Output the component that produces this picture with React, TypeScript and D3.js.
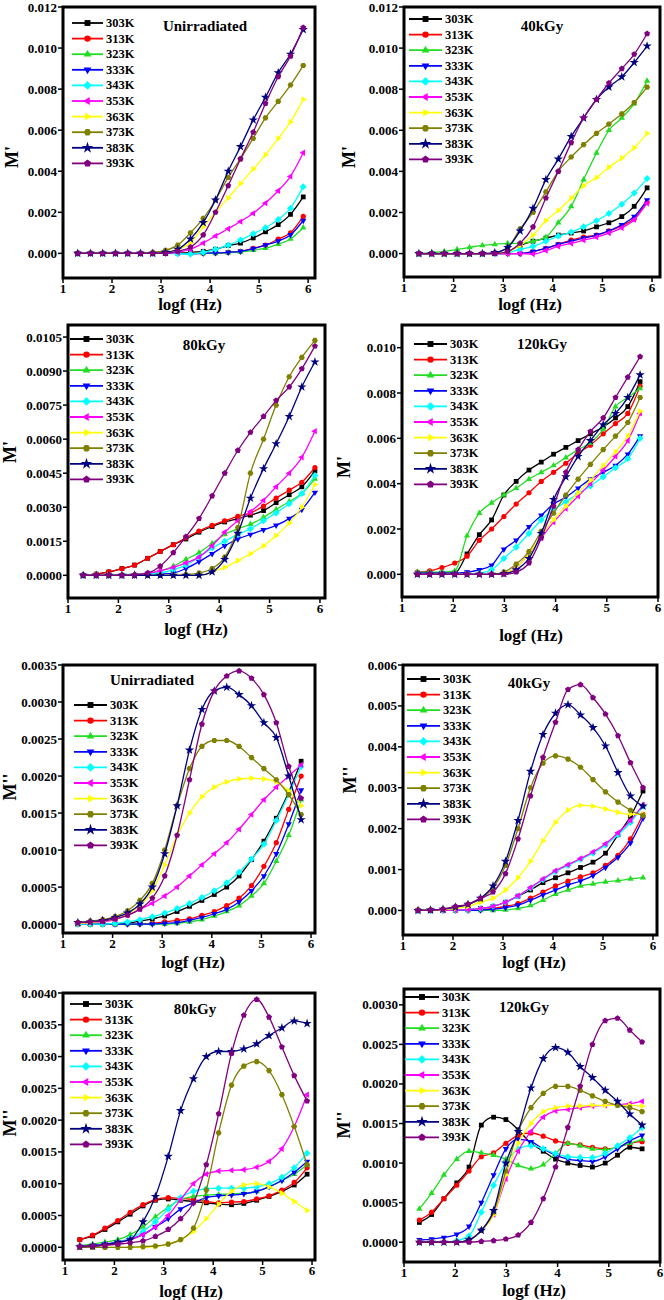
import React from "react";
import * as d3 from "d3";

// series labels and styling (Origin defaults)
const TEMPS = ["303K", "313K", "323K", "333K", "343K", "353K", "363K", "373K", "383K", "393K"];
const COLORS = ["#000000", "#ff0000", "#22dd22", "#0000ff", "#00ffff", "#ff00ff", "#ffff00", "#808000", "#000080", "#800080"];
const SHAPES = ["square", "circle", "up", "down", "diamond", "left", "right", "hexagon", "star", "pentagon"];

// logf grids (Hz)
const X_A = [1.3, 1.56, 1.81, 2.07, 2.32, 2.58, 2.83, 3.09, 3.34, 3.6, 3.86, 4.11, 4.37, 4.62, 4.88, 5.13, 5.39, 5.64, 5.9];
const X_B = [1.3, 1.55, 1.8, 2.05, 2.3, 2.55, 2.8, 3.05, 3.3, 3.55, 3.8, 4.05, 4.3, 4.55, 4.8, 5.05, 5.3, 5.55, 5.8];
const X_C = [1.3, 1.54, 1.78, 2.03, 2.27, 2.51, 2.75, 2.99, 3.23, 3.48, 3.72, 3.96, 4.2, 4.44, 4.68, 4.93, 5.17, 5.41, 5.65];

// M' (x1e-4), one row per temperature
const MP_UNIRR = [
  [0, 0, 0, 0, 0, 0, 0, 0, 0.2, 0.5, 1, 2, 3.8, 5, 7.5, 10.5, 14, 19, 27.5],
  [0, 0, 0, 0, 0, 0, 0, 0, 0, 0, 0, 0.2, 0.5, 1, 2.5, 4, 7, 10, 18],
  [0, 0, 0, 0, 0, 0, 0, 0, 0, 0, 0, 0, 0.3, 0.7, 1.5, 2.5, 4.5, 7, 12.5],
  [0, 0, 0, 0, 0, 0, 0, 0, 0, -0.2, 0, 0.2, 0.5, 1, 2.3, 4, 6, 9, 16],
  [0, 0, 0, 0, 0, 0, 0, 0, -0.2, -0.3, 0.5, 2, 4, 6.5, 9.5, 12.5, 16.5, 22, 32.5],
  [0, 0, 0, 0, 0, 0, 0, 0, 0.5, 2, 5, 8.5, 12, 15.5, 19.5, 24.5, 30.5, 37.5, 49],
  [0, 0, 0, 0, 0, 0, 0, 0.5, 2, 5, 13, 20, 27, 34, 41, 48, 56, 64, 75],
  [0, 0, 0, 0, 0, 0, 0.5, 1.5, 4, 10, 17, 26, 37, 46, 56, 66, 74, 82, 91.5],
  [0, 0, 0, 0, 0, 0, 0, 0.5, 2, 7, 15, 26, 40, 52, 65, 76, 88, 97, 109],
  [0, 0, 0, 0, 0, 0, 0, 0, 1, 3, 9, 20, 33, 46, 59, 73, 86, 96, 110],
];
const MP_40 = [
  [0, 0, 0, 0, 0, 0, 0, 1, 4, 6, 7.5, 9, 10, 11, 13, 15, 18, 23, 32],
  [0, 0, 0, 0, 0, 0, 0, 0, 0, 1, 2.5, 4.5, 6.5, 8, 9, 11, 13.5, 17, 25],
  [0, 0.5, 1, 2, 3, 4, 4.5, 5, 5, 6, 8, 15, 23, 36, 49, 60, 66, 73, 84],
  [0, 0, 0, 0, 0, 0, 0, 0, 0, 1, 2.5, 4.5, 6, 7.5, 9, 11, 14, 18, 26],
  [0, 0, 0, 0, 0, 0, 0, 0.5, 2, 3.5, 6, 8.5, 10.5, 13, 16, 19.5, 24, 29.5, 36.5],
  [0, 0, 0, 0, 0, 0, 0, 0, 0, -0.2, 1.5, 3.5, 5, 6.5, 8, 10, 12.5, 16.5, 24.5],
  [0, 0, 0, 0, 0, 0, 0, 1, 4, 9, 16, 21, 27, 33, 37, 42, 46.5, 51.5, 58.5],
  [0, 0, 0, 0, 0, 0, 0.5, 3, 12, 20, 30, 40, 47, 53, 58.5, 63, 68, 73.5, 81],
  [0, 0, 0, 0, 0, 0, 0.5, 3, 11, 22, 36, 46, 57, 66, 75, 81, 86, 93, 101],
  [0, 0, 0, 0, 0, 0, 0, 1, 5, 13, 27, 40, 54, 66, 75, 83, 90, 97, 107],
];
const MP_80 = [
  [0, 0.5, 1.5, 3, 4.5, 7.5, 10.5, 13.5, 16, 19, 21.5, 23.5, 25, 26.5, 28.5, 32, 35.5, 39, 46],
  [0, 0.5, 1.5, 3, 4.5, 7.5, 10.5, 13.5, 16.5, 19.5, 22, 24, 26, 27.5, 30.5, 34, 37.5, 41, 47.5],
  [0, 0, 0, 0.3, 0.5, 1, 2, 4, 7, 10, 14, 18, 20.5, 22.5, 25.5, 29, 32.5, 36, 42.5],
  [0, 0, 0, 0, 0, 0.2, 0.5, 1, 3, 6, 9.5, 13, 16, 18, 20, 22, 25, 29, 36.5],
  [0, 0, 0, 0, 0.2, 0.5, 1, 2.5, 4.5, 8, 12, 15, 18, 20.5, 24, 27.5, 31.5, 36, 44],
  [0, 0, 0, 0, 0.3, 1, 2, 3.5, 5.5, 8, 13, 19, 24, 28, 33, 39, 45, 52, 63.5],
  [0, 0, 0, 0, 0, 0, 0, 0, 0, 0, 1.5, 3.5, 6.5, 9.5, 13, 17.5, 23, 30, 40],
  [0, 0, 0, 0, 0, 0, 0, 0, 0.3, 1, 3, 8, 21, 45, 60, 75, 87.5, 96, 103.5],
  [0, 0, 0, 0, 0, 0, 0, 0, 0, 0, 1.5, 7, 18.5, 34, 47, 58, 70, 83, 94],
  [0, 0, 0, 0, 0.2, 1, 4, 10, 17, 25, 35, 45, 55, 63, 70, 77, 83, 91, 101],
];
const MP_120 = [
  [0.5, 0.5, 0.5, 0.5, 9, 17.5, 24, 35, 41, 46, 49.5, 53, 56, 59, 62, 65, 69, 74, 85],
  [1, 1.5, 3, 5, 8, 15, 20, 25.5, 31, 36, 41, 45, 49, 53.5, 57, 62, 66.5, 71, 83],
  [1, 1, 1, 1.5, 17, 27, 31.5, 35, 38, 42, 45, 48, 51.5, 55, 58, 64, 74, 78, 82],
  [0.5, 0.5, 0.5, 0.5, 1, 2, 4, 11, 15, 21, 26, 31, 34, 38, 42, 45, 48, 53, 61],
  [0, 0, 0, 0, 0, 0.5, 2, 7, 12, 18, 24, 28.5, 32, 35.5, 39, 43, 47, 51, 60],
  [0, 0, 0, 0, 0, 0, 0, 0.5, 3, 9, 16, 23, 29, 34.5, 40, 46, 52, 59, 71],
  [0, 0, 0, 0, 0, 0, 0, 0.5, 3, 9, 17, 24, 30, 36, 41.5, 48, 54, 61, 72],
  [0, 0, 0, 0, 0, 0, 0, 1, 4.5, 10, 19, 27, 35, 42, 48.5, 55, 61, 67, 78],
  [0, 0, 0, 0, 0, 0, 0, 0.3, 2, 7, 18, 33, 43, 52, 59, 66, 71, 78, 88],
  [0, 0, 0, 0, 0, 0, 0, 0, 1, 5, 16, 30, 45, 55, 63, 69, 78, 87, 96],
];

// M'' (x1e-5)
const MPP_UNIRR = [
  [0, 0, 0, 0, 1, 4, 7, 11, 17, 24, 32, 40, 50, 65, 87, 112, 143, 178, 220],
  [0, 0, 0, 0, 0, 0, 1, 3, 5, 7, 12, 17, 25, 35, 52, 78, 110, 155, 200],
  [0, 0, 0, 0, 0, 0, 0, 0, 1, 3, 6, 11, 17, 25, 38, 55, 85, 120, 168],
  [0, 0, 0, 0, 0, 0, 0, 1, 2, 5, 9, 14, 20, 30, 45, 65, 95, 135, 181],
  [0, 0, 0, 1, 3, 6, 10, 15, 21, 28, 36, 45, 56, 70, 88, 108, 140, 175, 213],
  [1, 2, 3, 6, 12, 20, 28, 38, 50, 65, 80, 95, 110, 128, 148, 168, 185, 200, 215],
  [1, 2, 4, 7, 13, 25, 45, 80, 120, 150, 172, 185, 192, 196, 197, 196, 192, 180, 160],
  [2, 4, 6, 10, 18, 32, 55, 100, 160, 210, 240, 248, 248, 240, 225, 210, 195, 175, 148],
  [2, 3, 5, 9, 15, 27, 50, 95, 160, 235, 290, 315, 320, 310, 295, 272, 252, 200, 141],
  [2, 3, 4, 7, 12, 20, 35, 65, 120, 195, 270, 315, 335, 342, 332, 310, 272, 213, 170],
];
const MPP_40 = [
  [0, 0, 0, 1, 2, 5, 10, 20, 35, 50, 68, 80, 92, 105, 118, 140, 185, 230, 292],
  [0, 0, 0, 0, 1, 2, 5, 10, 17, 30, 45, 60, 72, 82, 92, 110, 135, 175, 235],
  [0, 0, 0, 0, 0, 0, 0, 1, 5, 12, 25, 40, 50, 60, 65, 70, 73, 77, 80],
  [0, 0, 0, 0, 0, 1, 3, 7, 13, 25, 38, 50, 62, 72, 85, 105, 130, 165, 225],
  [0, 0, 0, 1, 2, 5, 10, 20, 35, 55, 75, 95, 110, 125, 140, 160, 185, 215, 255],
  [0, 0, 0, 1, 2, 5, 10, 20, 36, 56, 77, 97, 112, 127, 143, 163, 190, 220, 258],
  [0, 1, 2, 5, 10, 20, 30, 50, 80, 120, 170, 215, 245, 257, 255, 248, 240, 235, 235],
  [0, 1, 3, 8, 15, 28, 55, 110, 200, 300, 360, 378, 370, 350, 320, 290, 265, 245, 232],
  [0, 1, 3, 8, 15, 30, 60, 120, 220, 340, 430, 482, 503, 478, 447, 402, 337, 280, 255],
  [0, 1, 3, 10, 15, 30, 45, 90, 175, 280, 374, 460, 540, 552, 520, 480, 427, 361, 300],
];
const MPP_80 = [
  [12, 18, 28, 40, 52, 65, 74, 76, 74, 72, 70, 68, 67, 69, 74, 80, 88, 98, 115],
  [12, 19, 30, 42, 55, 67, 75, 78, 77, 75, 72, 70, 71, 72, 76, 81, 90, 102, 125],
  [3, 5, 8, 12, 20, 32, 48, 63, 75, 80, 82, 83, 84, 85, 88, 95, 105, 115, 130],
  [1, 3, 5, 8, 13, 20, 32, 45, 60, 70, 78, 81, 82, 84, 88, 95, 105, 118, 135],
  [1, 2, 4, 8, 14, 25, 40, 60, 78, 88, 92, 93, 93, 93, 95, 100, 110, 125, 148],
  [1, 2, 4, 7, 12, 20, 32, 50, 75, 100, 115, 120, 121, 122, 126, 135, 155, 190, 240],
  [0, 0, 0, 0, 0, 0, 1, 5, 12, 25, 45, 68, 88, 98, 100, 95, 85, 72, 58],
  [0, 0, 0, 0, 0, 1, 2, 5, 12, 30, 90, 180, 255, 285, 292, 278, 240, 190, 130],
  [1, 2, 4, 8, 12, 40, 80, 143, 215, 265, 300, 308, 308, 312, 320, 333, 345, 356, 352],
  [1, 2, 3, 5, 7, 10, 17, 28, 45, 70, 130, 210, 305, 365, 390, 362, 315, 270, 230],
];
const MPP_120 = [
  [25, 35, 55, 75, 95, 148, 158, 155, 142, 125, 115, 105, 100, 97, 95, 100, 110, 120, 118],
  [28, 38, 55, 72, 90, 108, 113, 125, 135, 138, 134, 128, 125, 123, 120, 118, 120, 125, 127],
  [42, 62, 85, 105, 115, 113, 110, 105, 97, 93, 98, 112, 125, 122, 118, 117, 120, 125, 130],
  [3, 4, 6, 10, 20, 50, 85, 118, 130, 127, 118, 110, 105, 103, 102, 108, 118, 128, 135],
  [0, 0, 0, 2, 8, 38, 72, 100, 118, 122, 118, 112, 108, 107, 107, 112, 122, 132, 145],
  [0, 0, 0, 0, 3, 15, 35, 80, 115, 140, 158, 166, 168, 170, 172, 173, 174, 175, 178],
  [0, 0, 0, 0, 3, 15, 35, 85, 125, 150, 165, 170, 172, 172, 173, 173, 173, 173, 172],
  [0, 0, 0, 0, 3, 15, 38, 90, 140, 170, 188, 197, 197, 192, 185, 178, 173, 170, 165],
  [0, 0, 0, 0, 3, 15, 40, 100, 140, 195, 232, 246, 240, 222, 208, 192, 178, 162, 148],
  [0, 0, 0, 0, 0, 1, 2, 4, 9, 25, 55, 95, 145, 197, 250, 280, 283, 268, 253],
];

// layout of the eight panels (page pixels)
const PANELS = [
  { data: MP_UNIRR, xs: X_A, unit: 1e-4, title: "Unirradiated", ylab: "M'", box: [63, 315, 7, 278], xDom: [1, 6.14], yDom: [-0.0012, 0.012], yStep: 0.002, fmt: ".3f", titleAt: [205, 26], leg: [72, 103, 23], ylabAt: [12, 157], xlabAt: [190, 304] },
  { data: MP_40, xs: X_A, unit: 1e-4, title: "40kGy", ylab: "M'", box: [404, 660, 7, 277], xDom: [1, 6.16], yDom: [-0.00114, 0.012], yStep: 0.002, fmt: ".3f", titleAt: [542, 26], leg: [409, 442, 19], ylabAt: [349, 157], xlabAt: [530, 304] },
  { data: MP_80, xs: X_A, unit: 1e-4, title: "80kGy", ylab: "M'", box: [68, 325, 325, 598], xDom: [1, 6.1], yDom: [-0.001, 0.01103], yStep: 0.0015, fmt: ".4f", titleAt: [204, 345], leg: [70, 103, 339], ylabAt: [10, 452], xlabAt: [196, 629] },
  { data: MP_120, xs: X_C, unit: 1e-4, title: "120kGy", ylab: "M'", box: [402, 658, 325, 597], xDom: [1, 6], yDom: [-0.001, 0.011], yStep: 0.002, fmt: ".3f", titleAt: [542, 344], leg: [414, 447, 344], ylabAt: [344, 467], xlabAt: [531, 635] },
  { data: MPP_UNIRR, xs: X_B, unit: 1e-5, title: "Unirradiated", ylab: "M''", box: [63, 315, 665, 933], xDom: [1, 6.08], yDom: [-0.00012, 0.0035], yStep: 0.0005, fmt: ".4f", titleAt: [152, 680], leg: [74, 107, 705], ylabAt: [10, 787], xlabAt: [193, 962] },
  { data: MPP_40, xs: X_B, unit: 1e-5, title: "40kGy", ylab: "M''", box: [403, 657, 665, 935], xDom: [1, 6.08], yDom: [-0.0006, 0.006], yStep: 0.001, fmt: ".3f", titleAt: [529, 683], leg: [407, 440, 679], ylabAt: [350, 780], xlabAt: [534, 962] },
  { data: MPP_80, xs: X_A, unit: 1e-5, title: "80kGy", ylab: "M''", box: [63, 315, 993, 1260], xDom: [0.96, 6.06], yDom: [-0.0002, 0.004], yStep: 0.0005, fmt: ".4f", titleAt: [195, 1009], leg: [70, 102, 1004], ylabAt: [10, 1123], xlabAt: [191, 1291] },
  { data: MPP_120, xs: X_C, unit: 1e-5, title: "120kGy", ylab: "M''", box: [404, 660, 989, 1262], xDom: [1, 6], yDom: [-0.00025, 0.0032], yStep: 0.0005, fmt: ".4f", titleAt: [524, 1007], leg: [405, 439, 997], ylabAt: [344, 1125], xlabAt: [534, 1290] },
];

const FONT = "'Liberation Serif', 'Times New Roman', serif";

function poly(n: number, r: number, rot: number) {
  const pts = d3.range(n).map((i) => {
    const a = ((rot + (i * 360) / n) * Math.PI) / 180;
    return [r * Math.cos(a), r * Math.sin(a)];
  });
  return "M" + pts.map((p) => p[0].toFixed(2) + "," + p[1].toFixed(2)).join("L") + "Z";
}

function markerPath(shape: string, r: number): string {
  switch (shape) {
    case "square": return poly(4, r * 1.3, 45);
    case "circle": return d3.symbol(d3.symbolCircle, Math.PI * r * r)() as string;
    case "up": return poly(3, r * 1.4, -90);
    case "down": return poly(3, r * 1.4, 90);
    case "diamond": return poly(4, r * 1.35, 0);
    case "left": return poly(3, r * 1.4, 180);
    case "right": return poly(3, r * 1.4, 0);
    case "hexagon": return poly(6, r * 1.15, 0);
    case "star": return d3.symbol(d3.symbolStar, r * r * 4)() as string;
    default: return poly(5, r * 1.2, -90);
  }
}

function Panel({ p }: { p: any }) {
  const [l, r, t, b] = p.box;
  const x = d3.scaleLinear().domain(p.xDom).range([l, r]);
  const y = d3.scaleLinear().domain(p.yDom).range([b, t]);
  const yTicks = d3.range(0, p.yDom[1] + 1e-9, p.yStep);
  const xTicks = [1, 2, 3, 4, 5, 6];
  const fmt = d3.format(p.fmt);
  const line = d3
    .line<number>()
    .x((_, i) => x(p.xs[i]))
    .y((v) => y(v * p.unit))
    .curve(d3.curveMonotoneX);
  const ms = 2.6;

  return (
    <g>
      {/* series */}
      {p.data.map((vals: number[], k: number) => (
        <g key={k}>
          <path d={line(vals) || ""} fill="none" stroke={COLORS[k]} strokeWidth={1.3} />
          {vals.map((v, i) => (
            <path key={i} d={markerPath(SHAPES[k], ms)} transform={`translate(${x(p.xs[i])},${y(v * p.unit)})`} fill={COLORS[k]} />
          ))}
        </g>
      ))}

      {/* frame */}
      <rect x={l} y={t} width={r - l} height={b - t} fill="none" stroke="#000" strokeWidth={3} />

      {/* y axis ticks */}
      {yTicks.map((v) => (
        <g key={v}>
          <line x1={l - 5} x2={l} y1={y(v)} y2={y(v)} stroke="#000" strokeWidth={1.5} />
          <text x={l - 6} y={y(v)} textAnchor="end" dominantBaseline="central" fontFamily={FONT} fontWeight="bold" fontSize={13}>
            {fmt(v)}
          </text>
        </g>
      ))}

      {/* x axis ticks */}
      {xTicks.map((v) => (
        <g key={v}>
          <line x1={x(v)} x2={x(v)} y1={b} y2={b + 5} stroke="#000" strokeWidth={1.5} />
          <text x={x(v)} y={b + 10} textAnchor="middle" dominantBaseline="central" fontFamily={FONT} fontWeight="bold" fontSize={13}>
            {v}
          </text>
        </g>
      ))}

      {/* axis titles */}
      <text x={p.xlabAt[0]} y={p.xlabAt[1]} textAnchor="middle" dominantBaseline="central" fontFamily={FONT} fontWeight="bold" fontSize={17}>
        logf (Hz)
      </text>
      <text transform={`translate(${p.ylabAt[0]},${p.ylabAt[1]}) rotate(-90)`} textAnchor="middle" dominantBaseline="central" fontFamily={FONT} fontWeight="bold" fontSize={18}>
        {p.ylab}
      </text>

      {/* panel title */}
      <text x={p.titleAt[0]} y={p.titleAt[1]} textAnchor="middle" dominantBaseline="central" fontFamily={FONT} fontWeight="bold" fontSize={15}>
        {p.title}
      </text>

      {/* legend */}
      {TEMPS.map((name, k) => {
        const ly = p.leg[2] + k * 15.6;
        return (
          <g key={name}>
            <line x1={p.leg[0]} x2={p.leg[1]} y1={ly} y2={ly} stroke={COLORS[k]} strokeWidth={1.8} />
            <path d={markerPath(SHAPES[k], 3.2)} transform={`translate(${(p.leg[0] + p.leg[1]) / 2},${ly})`} fill={COLORS[k]} />
            <text x={p.leg[1] + 3} y={ly} dominantBaseline="central" fontFamily={FONT} fontWeight="bold" fontSize={12.5}>
              {name}
            </text>
          </g>
        );
      })}
    </g>
  );
}

export default function App() {
  return (
    <svg width={664} height={1300} style={{ position: "absolute", left: 0, top: 0, background: "#fff" }}>
      <rect width={664} height={1300} fill="#fff" />
      {PANELS.map((p, i) => (
        <Panel key={i} p={p} />
      ))}
    </svg>
  );
}
